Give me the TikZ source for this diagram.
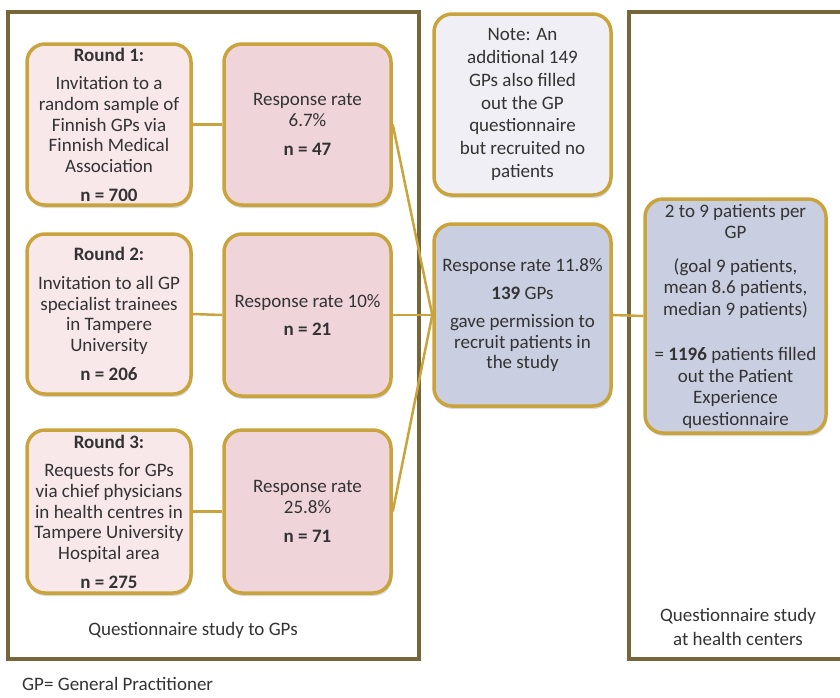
\documentclass[tikz,border=0pt]{standalone}
\usepackage{fontspec}
\setmainfont{Carlito}
\usetikzlibrary{shadows}
\definecolor{gold}{HTML}{C9A43C}
\definecolor{frame}{HTML}{76663A}
\definecolor{txt}{HTML}{333333}
\definecolor{pinklight}{HTML}{F8E8EA}
\definecolor{pinkmid}{HTML}{EFD4DA}
\definecolor{bluegrey}{HTML}{C9CEE0}
\definecolor{notefill}{HTML}{EFEFF5}
\begin{document}
\begin{tikzpicture}[x=1pt,y=-1pt,
  box/.style={draw=gold, line width=3.5pt, rounded corners=18pt, align=center,
    inner sep=0pt, text=txt, font=\fontsize{19}{20.7}\selectfont,
    drop shadow={shadow xshift=1pt, shadow yshift=-3pt, opacity=0.25, fill=black!60}},
  roundbox/.style={box, fill=pinklight, minimum width=164pt},
  ratebox/.style={box, fill=pinkmid, minimum width=167pt},
  bluebox/.style={box, fill=bluegrey},
  link/.style={draw=gold, line width=2.5pt},
  framebox/.style={draw=frame, line width=4pt},
  label/.style={text=txt, font=\fontsize{19}{24}\selectfont, align=center, inner sep=0pt}
]
\useasboundingbox (0,0) rectangle (840,697);
% frames
\draw[framebox] (8,12) rectangle (419,659);
\draw[framebox] (845,12) -- (629,12) -- (629,659) -- (845,659);

% round boxes
\node[roundbox, minimum height=161pt] (r1) at (109,124.5)
  {\textbf{Round 1:}\\[8pt]Invitation to a\\random sample of\\Finnish GPs via\\Finnish Medical\\Association\\[8pt]\textbf{n = 700}};
\node[roundbox, minimum height=160pt] (r2) at (109,314)
  {\textbf{Round 2:}\\[8pt]Invitation to all GP\\specialist trainees\\in Tampere\\University\\[8pt]\textbf{n = 206}};
\node[roundbox, minimum height=163pt] (r3) at (109,511.5)
  {\textbf{Round 3:}\\[8pt]Requests for GPs\\via chief physicians\\in health centres in\\Tampere University\\Hospital area\\[8pt]\textbf{n = 275}};

% response boxes
\node[ratebox, minimum height=161pt] (s1) at (307.5,124.5)
  {Response rate\\6.7\%\\[8pt]\textbf{n = 47}};
\node[ratebox, minimum height=162pt] (s2) at (307.5,315)
  {Response rate 10\%\\[8pt]\textbf{n = 21}};
\node[ratebox, minimum height=163pt] (s3) at (307.5,511.5)
  {Response rate\\25.8\%\\[8pt]\textbf{n = 71}};

% note
\node[box, fill=notefill, minimum width=177pt, minimum height=181pt,
  font=\fontsize{19}{22.7}\selectfont] (note) at (522.5,104.5)
  {Note: An\\additional 149\\GPs also filled\\out the GP\\questionnaire\\but recruited no\\patients};

% center
\node[bluebox, minimum width=177pt, minimum height=182pt] (c) at (522.5,315)
  {Response rate 11.8\%\\[8pt]\textbf{139} GPs\\[7pt]gave permission to\\recruit patients in\\the study};

% right
\node[bluebox, minimum width=181pt, minimum height=234pt,
  font=\fontsize{19}{21.5}\selectfont] (p) at (735.5,316)
  {2 to 9 patients per\\GP\\[12pt](goal 9 patients,\\mean 8.6 patients,\\median 9 patients)\\[24pt]= \textbf{1196} patients filled\\out the Patient\\Experience\\questionnaire};

% connectors
\path[link] (r1.east) -- (s1.west);
\path[link] (r2.east) -- (s2.west);
\path[link] (r3.east) -- (s3.west);
\path[link] (s1.east) -- (c.west);
\path[link] (s2.east) -- (c.west);
\path[link] (s3.east) -- (c.west);
\path[link] (c.east) -- (p.west);

% labels
\node[label] (lgp) at (193,630) {Questionnaire study to GPs};
\node[label] (lhc) at (738,627) {Questionnaire study\\at health centers};
\node[label, anchor=west] (lfoot) at (22,684) {GP= General Practitioner};
\end{tikzpicture}
\end{document}
